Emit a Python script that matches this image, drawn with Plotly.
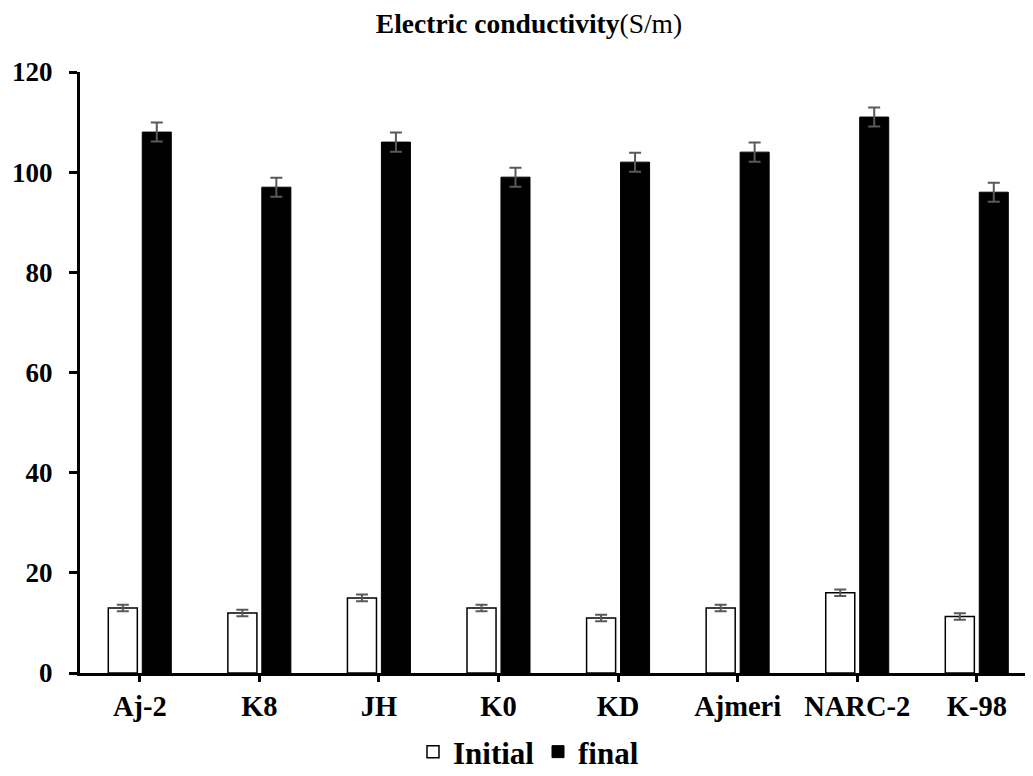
import plotly.graph_objects as go

categories = ["Aj-2", "K8", "JH", "K0", "KD", "Ajmeri", "NARC-2", "K-98"]
initial = [13, 12, 15, 13, 11, 13, 16, 11.3]
initial_err = [0.65, 0.65, 0.65, 0.65, 0.65, 0.65, 0.65, 0.65]
final = [108, 97, 106, 99, 102, 104, 111, 96]
final_err = [1.9, 1.9, 1.9, 1.9, 1.9, 1.9, 1.9, 1.9]
y_ticks = [0, 20, 40, 60, 80, 100, 120]

FONT = "Liberation Serif"
ERR_COLOR = "#595959"
W, H = 1025, 768  # page body has an 8px margin

fig = go.Figure()
fig.add_trace(go.Bar(
    x=categories, y=initial, name="<b>Initial</b>",
    marker=dict(color="white", line=dict(color="black", width=1.5)),
    error_y=dict(type="data", array=initial_err, color=ERR_COLOR, thickness=2, width=6),
))
fig.add_trace(go.Bar(
    x=categories, y=final, name="<b>final</b>",
    marker=dict(color="black", line=dict(color="black", width=1)),
    error_y=dict(type="data", array=final_err, color=ERR_COLOR, thickness=2, width=6),
))

fig.update_layout(
    width=W, height=H,
    margin=dict(l=72, r=0, t=64, b=103, autoexpand=False),
    paper_bgcolor="white", plot_bgcolor="white",
    barmode="group", bargap=0.432, bargroupgap=0.145,
    font=dict(family=FONT, color="black"),
    title=dict(text="<b>Electric conductivity</b>(S/m)", font=dict(family=FONT, size=27.5, color="black"),
               xref="container", x=521 / W, xanchor="center", yref="container", y=1 - 15 / H, yanchor="middle"),
    legend=dict(orientation="h", xref="container", x=530 / W, xanchor="center",
                yref="container", y=1 - 744 / H, yanchor="middle",
                font=dict(family=FONT, size=31, color="black"), itemwidth=30,
                entrywidth=80, entrywidthmode="pixels",
                traceorder="normal", tracegroupgap=0),
    showlegend=True,
)
fig.update_xaxes(
    range=[-0.5, 7.47], showline=True, linecolor="black", linewidth=3,
    ticks="outside", ticklen=6, tickwidth=3, tickcolor="black",
    tickfont=dict(family=FONT, size=28.5, color="black"), showgrid=False,
    tickprefix="<b>", ticksuffix="</b>", automargin=False,
)
fig.update_yaxes(
    range=[0, 120], tickvals=y_ticks, ticktext=[f"<b>{v}</b>" for v in y_ticks],
    showline=True, linecolor="black", linewidth=3,
    ticks="outside", ticklen=8, tickwidth=3, tickcolor="black",
    tickfont=dict(family=FONT, size=27, color="black"), showgrid=False, zeroline=False,
    ticklabelstandoff=11, automargin=False,
)
fig.write_html("out.html")
